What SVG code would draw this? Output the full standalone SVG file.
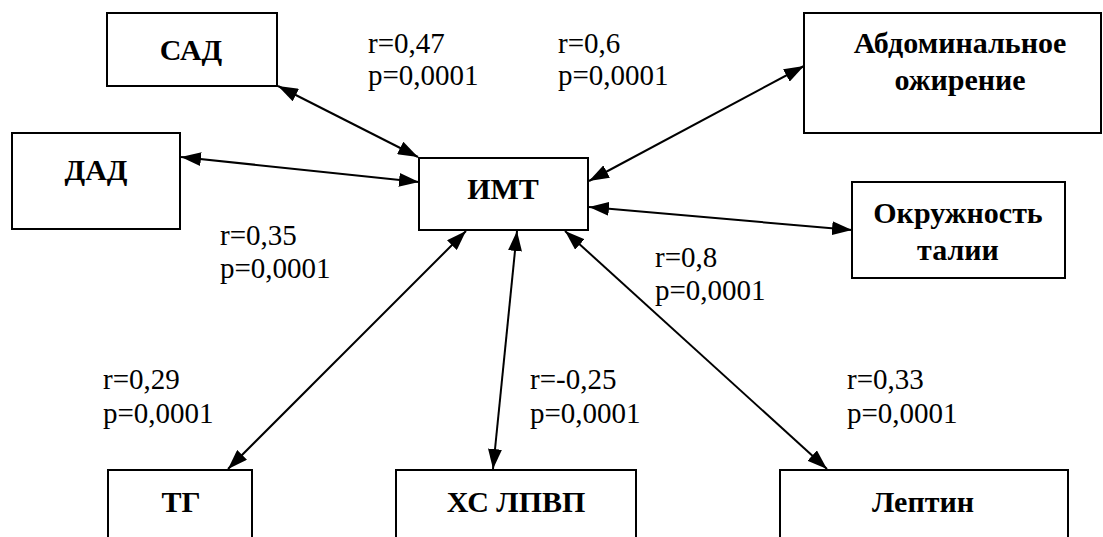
<svg xmlns="http://www.w3.org/2000/svg" width="1103" height="537" viewBox="0 0 1103 537">
<style>
.box{fill:#fff;stroke:#000;stroke-width:2}
.lbl{font-weight:bold;font-size:30px;text-anchor:middle;fill:#000}
.val{font-size:29px;fill:#000}
.con{stroke:#000;stroke-width:2;fill:none;marker-start:url(#ah);marker-end:url(#ah)}
</style>
<defs>
<marker id="ah" markerUnits="userSpaceOnUse" markerWidth="20" markerHeight="14" refX="20" refY="7" orient="auto-start-reverse">
<path d="M0,0 L20,7 L0,14 z" fill="#000"/>
</marker>
</defs>
<rect width="1103" height="537" fill="#fff"/>
<g id="connectors">
<line class="con" x1="278" y1="86" x2="418" y2="157"/>
<line class="con" x1="181" y1="157" x2="419" y2="182"/>
<line class="con" x1="589" y1="181" x2="804" y2="66"/>
<line class="con" x1="589" y1="207" x2="852" y2="230"/>
<line class="con" x1="466" y1="231" x2="228" y2="469"/>
<line class="con" x1="517" y1="231" x2="493" y2="469"/>
<line class="con" x1="565" y1="231" x2="827" y2="469"/>
</g>
<g font-family="Liberation Serif, Times New Roman, DejaVu Serif, serif">
<g id="sad"><rect class="box" x="107" y="13" width="170" height="73"/><text class="lbl" x="191" y="60">САД</text></g>
<g id="dad"><rect class="box" x="12" y="133" width="168" height="96"/><text class="lbl" x="96" y="180">ДАД</text></g>
<g id="imt"><rect class="box" x="419" y="158" width="169" height="72"/><text class="lbl" x="503" y="199">ИМТ</text></g>
<g id="abd"><rect class="box" x="804" y="13" width="297" height="120"/><text class="lbl" x="960" y="53">Абдоминальное</text><text class="lbl" x="960" y="90">ожирение</text></g>
<g id="okr"><rect class="box" x="852" y="182" width="213" height="96"/><text class="lbl" x="958" y="223">Окружность</text><text class="lbl" x="958" y="260">талии</text></g>
<g id="tg"><rect class="box" x="108" y="470" width="144" height="80"/><text class="lbl" x="181" y="512">ТГ</text></g>
<g id="hs"><rect class="box" x="396" y="470" width="240" height="80"/><text class="lbl" x="516" y="512">ХС ЛПВП</text></g>
<g id="lep"><rect class="box" x="780" y="470" width="288" height="80"/><text class="lbl" x="923" y="512">Лептин</text></g>
<g id="values">
<text class="val" x="368" y="53">r=0,47</text><text class="val" x="368" y="85">p=0,0001</text>
<text class="val" x="558" y="53">r=0,6</text><text class="val" x="558" y="85">p=0,0001</text>
<text class="val" x="220" y="245">r=0,35</text><text class="val" x="220" y="278">p=0,0001</text>
<text class="val" x="655" y="267">r=0,8</text><text class="val" x="655" y="300">p=0,0001</text>
<text class="val" x="103" y="389">r=0,29</text><text class="val" x="103" y="423">p=0,0001</text>
<text class="val" x="530" y="389">r=-0,25</text><text class="val" x="530" y="423">p=0,0001</text>
<text class="val" x="847" y="389">r=0,33</text><text class="val" x="847" y="423">p=0,0001</text>
</g>
</g>
</svg>
